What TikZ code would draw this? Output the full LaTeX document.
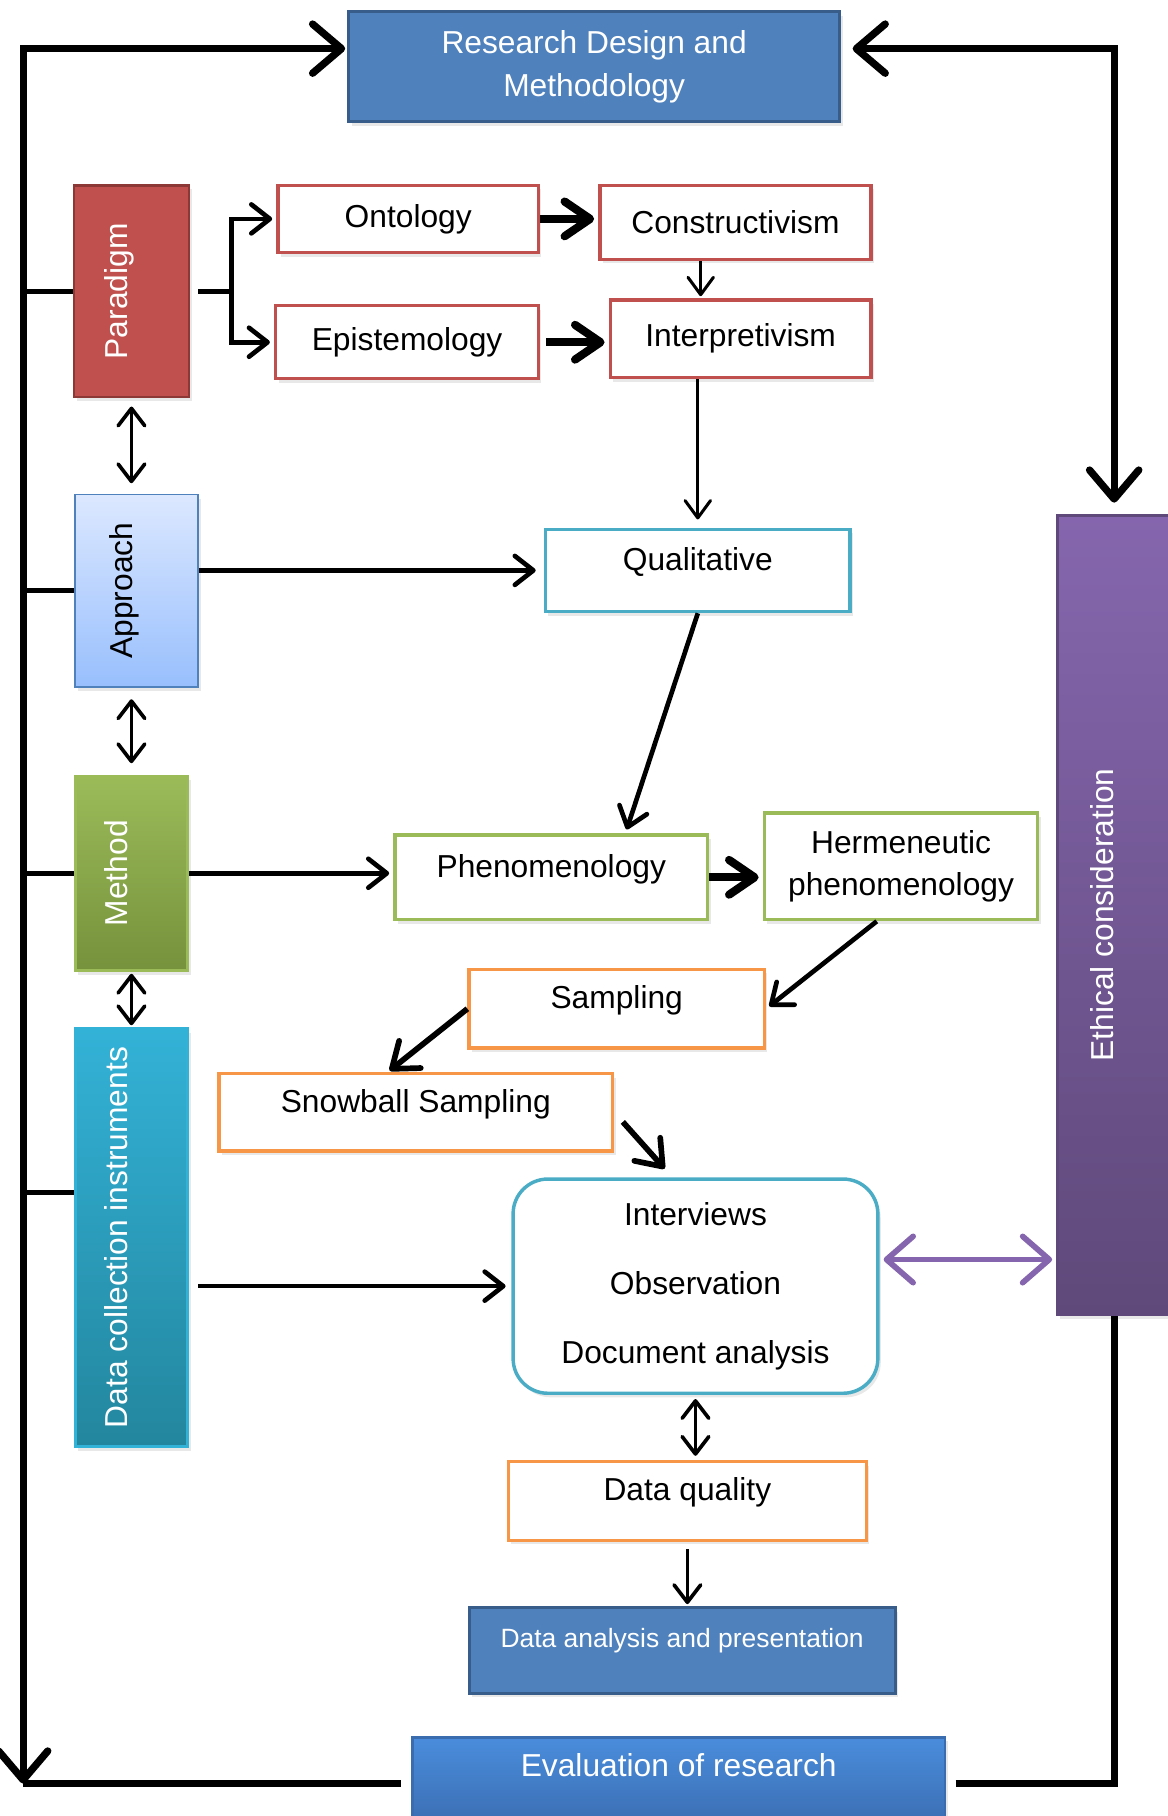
\documentclass[tikz,border=0pt]{standalone}
\usepackage{fontspec}
\setmainfont{Liberation Sans}
\usepackage{graphicx}
\usetikzlibrary{positioning}
\usetikzlibrary{calc}
\usetikzlibrary{arrows.meta, shadows}

\definecolor{rdblue}{HTML}{4F81BD}
\definecolor{rdblueedge}{HTML}{385D8A}
\definecolor{pdred}{HTML}{C0504D}
\definecolor{pdrededge}{HTML}{8C3836}
\definecolor{qlteal}{HTML}{4BACC6}
\definecolor{mtgreen}{HTML}{9BBB59}
\definecolor{mtgreendark}{HTML}{76923C}
\definecolor{smorange}{HTML}{F79646}
\definecolor{ecpurple}{HTML}{8566AE}
\definecolor{ecpurpledark}{HTML}{5F497A}
\definecolor{dcteal}{HTML}{33B2D7}
\definecolor{dctealdark}{HTML}{23869E}
\definecolor{aplight}{HTML}{DCE8FF}
\definecolor{apdark}{HTML}{98BFFD}
\definecolor{evblue}{HTML}{4A8DDC}
\definecolor{evbluedark}{HTML}{3A6CB0}

% rotated text inside the side boxes
\newcommand{\sidetext}[1]{\rotatebox{90}{\raisebox{0pt}[11pt][15pt]{#1}}}

\begin{document}
\begin{tikzpicture}[x=0.02cm, y=-0.02cm, font=\fontsize{15.6}{21}\selectfont]
    \useasboundingbox (0, 0) rectangle (1008, 1568);

    % box styles
    \tikzstyle{softshadow} = [drop shadow={opacity=0.18, shadow xshift=0.05cm, shadow yshift=-0.07cm}]
    \tikzstyle{bluebox} = [draw=rdblueedge, fill=rdblue, line width=1.4pt, text=white, align=center, softshadow]
    \tikzstyle{sidebox} = [line width=1.2pt, text=white, softshadow]
    \tikzstyle{whitebox} = [fill=white, line width=1.7pt, align=center, softshadow]
    \tikzstyle{uptext} = [text height=11pt, text depth=11pt]

    % line styles
    \tikzstyle{loopline} = [line width=3.6pt, >={Straight Barb[length=5mm, width=8.5mm, round]}]
    \tikzstyle{tieline} = [line width=2.4pt]
    \tikzstyle{link} = [line width=2.3pt, >={Straight Barb[length=3.2mm, width=5mm, round]}, shorten >=2pt]
    \tikzstyle{thinlink} = [line width=1.5pt, >={Straight Barb[length=3mm, width=4.4mm, round]}, shorten >=1pt]
    \tikzstyle{pairlink} = [line width=1.8pt, >={Straight Barb[length=3mm, width=4.6mm, round]}]
    \tikzstyle{fatlink} = [line width=4pt, >={Straight Barb[length=4.4mm, width=6mm, round]}, shorten >=2pt]
    \tikzstyle{medlink} = [line width=2.8pt, >={Straight Barb[length=4mm, width=6mm, round]}, shorten >=1pt]
    \tikzstyle{purplelink} = [line width=2.8pt, draw=ecpurple, >={Straight Barb[length=4.6mm, width=8mm, round]}, shorten <=2pt, shorten >=2pt]

    % top and bottom boxes
    \node[bluebox, minimum width=8.48cm, minimum height=1.9cm] (research) at (513, 57.5) {Research Design and\\Methodology};
    \node[bluebox, font=\fontsize{13}{16}\selectfont, text height=9pt, text depth=12pt, minimum width=7.36cm, minimum height=1.48cm] (analysis) at (589, 1425) {Data analysis and presentation};
    \node[bluebox, draw=evbluedark, top color=evblue, bottom color=evbluedark, text height=11pt, text depth=18pt, minimum width=9.2cm, minimum height=1.6cm] (evaluation) at (586, 1540) {Evaluation of research};

    % side boxes
    \node[sidebox, draw=pdrededge, fill=pdred, minimum width=1.98cm, minimum height=3.66cm] (paradigm) at (113.5, 251.5) {\sidetext{Paradigm}};
    \node[sidebox, draw=rdblue, top color=aplight, bottom color=apdark, text=black, line width=0.9pt, minimum width=2.12cm, minimum height=3.32cm] (approach) at (118, 510) {\sidetext{Approach}};
    \node[sidebox, draw=mtgreen, top color=mtgreen, bottom color=mtgreendark, minimum width=1.94cm, minimum height=3.36cm] (method) at (113.5, 754) {\sidetext{Method}};
    \node[sidebox, draw=dcteal, top color=dcteal, bottom color=dctealdark, minimum width=1.94cm, minimum height=7.22cm] (collection) at (113.5, 1068.5) {\sidetext{Data collection instruments}};
    \node[sidebox, draw=ecpurpledark, top color=ecpurple, bottom color=ecpurpledark, minimum width=2.08cm, minimum height=13.8cm] (ethical) at (965, 790) {\sidetext{Ethical consideration}};

    % paradigm boxes
    \node[whitebox, draw=pdred, minimum width=4.5cm, minimum height=1.16cm] (ontology) at (352.5, 189) {Ontology};
    \node[whitebox, draw=pdred, minimum width=4.68cm, minimum height=1.28cm] (constructivism) at (635, 192) {Constructivism};
    \node[whitebox, draw=pdred, minimum width=4.54cm, minimum height=1.26cm] (epistemology) at (351.5, 295.5) {Epistemology};
    \node[whitebox, draw=pdred, minimum width=4.5cm, minimum height=1.34cm] (interpretivism) at (639.5, 292.5) {Interpretivism};

    % approach, method and sampling boxes
    \node[whitebox, draw=qlteal, uptext, minimum width=5.26cm, minimum height=1.42cm] (qualitative) at (602.5, 492.5) {Qualitative};
    \node[whitebox, draw=mtgreen, uptext, minimum width=5.4cm, minimum height=1.46cm] (phenomenology) at (476, 757.5) {Phenomenology};
    \node[whitebox, draw=mtgreen, minimum width=4.72cm, minimum height=1.84cm] (hermeneutic) at (778, 748) {Hermeneutic\\phenomenology};
    \node[whitebox, draw=smorange, uptext, minimum width=5.1cm, minimum height=1.36cm] (sampling) at (532.5, 871) {Sampling};
    \node[whitebox, draw=smorange, uptext, minimum width=6.8cm, minimum height=1.34cm] (snowball) at (359, 960.5) {Snowball Sampling};
    \node[whitebox, draw=qlteal, rounded corners=0.6cm, font=\fontsize{15.6}{34}\selectfont, minimum width=6.3cm, minimum height=3.7cm] (instruments) at (600.5, 1110.5) {Interviews\\Observation\\Document analysis};
    \node[whitebox, draw=smorange, uptext, minimum width=6.18cm, minimum height=1.36cm] (quality) at (593.5, 1296) {Data quality};

    % outer loop
    \coordinate (lefttop) at (20, 42);
    \coordinate (leftbottom) at (20, 1540);
    \coordinate (righttop) at (962, 42);
    \coordinate (rightbottom) at (962, 1540);
    \draw[loopline, <->, shorten <=1pt] (lefttop -| research.west) -- (lefttop) -- (leftbottom);
    \draw[loopline, shorten >=0.18cm] (leftbottom) -- (evaluation.west);
    \draw[loopline, <->, shorten <=0.2cm, shorten >=0.2cm] (righttop -| research.east) -- (righttop) -- (righttop |- ethical.north);
    \draw[loopline, shorten <=0.16cm] (evaluation.east) -- (rightbottom) -- (rightbottom |- ethical.south);

    % ties from the outer loop to the side boxes
    \draw[tieline] (lefttop |- paradigm.west) -- (paradigm.west);
    \draw[tieline] (lefttop |- approach.west) -- (approach.west);
    \draw[tieline] (lefttop |- method.west) -- (method.west);
    \coordinate (collectiontie) at (20, 1030);
    \draw[tieline] (collectiontie) -- (collectiontie -| collection.west);

    % paradigm branch
    \coordinate (branch) at ($(paradigm.east) + (36, 0)$);
    \draw[link, shorten <=0.14cm, shorten >=0pt] (paradigm.east) -- (branch);
    \draw[link, <->, shorten <=2pt] (ontology.west) -| (branch) |- (epistemology.west);
    \draw[fatlink, ->] (ontology.east) -- (constructivism.west |- ontology.east);
    \draw[fatlink, ->, shorten <=0.1cm] (epistemology.east) -- (interpretivism.west |- epistemology.east);
    \draw[thinlink, ->] ([xshift=-0.6cm]constructivism.south) -- ([xshift=-0.6cm]constructivism.south |- interpretivism.north);
    \draw[thinlink, ->, shorten >=0.14cm] (qualitative.north |- interpretivism.south) -- (qualitative.north);

    % links between the side boxes
    \draw[pairlink, <->, shorten <=0.14cm, shorten >=0.18cm] (paradigm.south) -- (approach.north -| paradigm.south);
    \draw[pairlink, <->, shorten <=0.2cm, shorten >=0.2cm] (approach.south -| method.north) -- (method.north);
    \draw[pairlink, <->, shorten <=1pt, shorten >=1pt] (method.south) -- (collection.north);

    % main flow
    \draw[link, ->, shorten >=0.14cm] (approach.east |- qualitative.west) -- (qualitative.west);
    \draw[link, ->] (qualitative.south) -- ([xshift=1.28cm]phenomenology.north);
    \draw[link, ->] (method.east) -- (phenomenology.west |- method.east);
    \draw[fatlink, ->] (phenomenology.east) -- (hermeneutic.west |- phenomenology.east);
    \draw[link, ->] ([xshift=-0.42cm]hermeneutic.south) -- (sampling.east);
    \draw[medlink, ->] (sampling.west) -- ([xshift=-0.48cm]snowball.north);
    \draw[medlink, ->, shorten <=0.22cm, shorten >=0.2cm] (snowball.east) -- ([xshift=-0.4cm]instruments.north);
    \draw[link, ->, shorten <=0.16cm, shorten >=0.1cm] (collection.east |- instruments.west) -- (instruments.west);
    \draw[purplelink, <->] ([yshift=0.46cm]instruments.east) -- ([yshift=0.46cm]instruments.east -| ethical.west);
    \draw[pairlink, <->, shorten <=2pt, shorten >=2pt] (instruments.south) -- (instruments.south |- quality.north);
    \draw[pairlink, ->, shorten <=0.12cm, shorten >=1pt] (quality.south) -- (quality.south |- analysis.north);

\end{tikzpicture}
\end{document}
